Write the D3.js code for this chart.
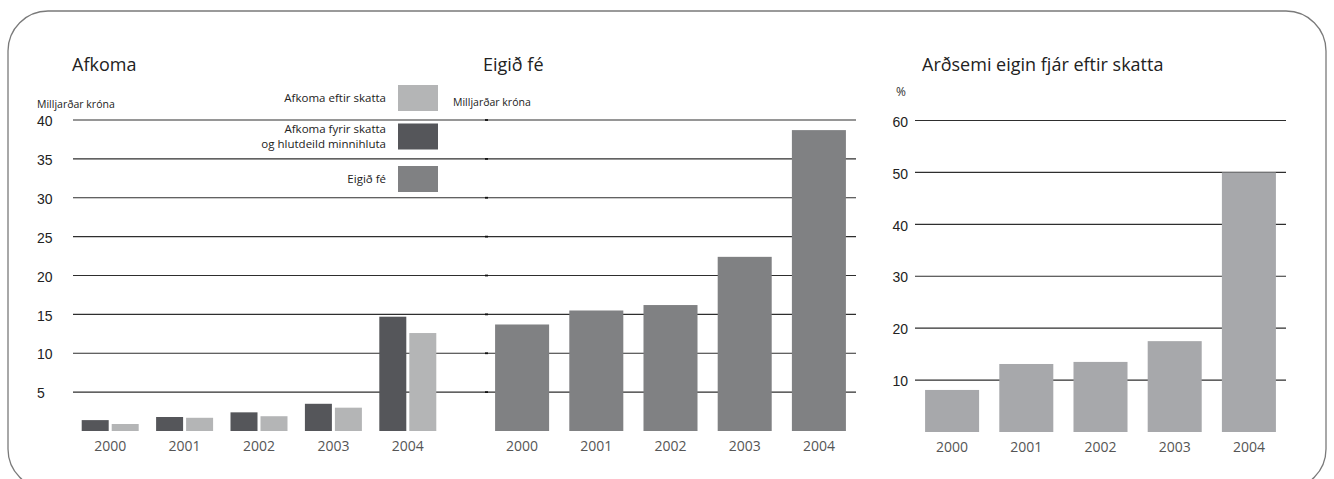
<!DOCTYPE html>
<html>
<head>
<meta charset="utf-8">
<script src="https://cdn.jsdelivr.net/npm/d3@7"></script>
<style>
  html, body { margin: 0; padding: 0; background: #fff; }
  svg { display: block; }
  .sans { font-family: "Open Sans", "Noto Sans", sans-serif; }
  .num { font-family: "Liberation Sans", Arial, sans-serif; }
</style>
</head>
<body>
<svg id="chart" width="1334" height="479"></svg>
<script>
// Years shown on every panel
const years = ["2000", "2001", "2002", "2003", "2004"];

// Afkoma (milljarðar króna)
const afkomaFyrirSkatta = [1.4, 1.8, 2.4, 3.5, 14.7];
const afkomaEftirSkatta = [0.9, 1.7, 1.9, 3.0, 12.6];

// Eigið fé (milljarðar króna)
const eigidFe = [13.7, 15.5, 16.2, 22.4, 38.7];

// Arðsemi eigin fjár eftir skatta (%)
const ardsemi = [8.1, 13.1, 13.5, 17.5, 50.0];

// Axis ticks
const kronaTicks = [5, 10, 15, 20, 25, 30, 35, 40];
const pctTicks = [10, 20, 30, 40, 50, 60];

// Legend entries
const legendLabels = [
  ["Afkoma eftir skatta"],
  ["Afkoma fyrir skatta", "og hlutdeild minnihluta"],
  ["Eigið fé"]
];

const COL_DARK = "#55565a";
const COL_LIGHT = "#b4b5b6";
const COL_MID = "#808183";
const COL_PCT = "#a7a8ab";
const GRID = "#2e2e2e";

const svg = d3.select("#chart");

// band scale whose bands are centred in equal steps across the range
function bands(range, pad) {
  return d3.scaleBand().domain(years).range(range)
    .paddingInner(pad).paddingOuter(pad / 2);
}

// Rounded frame
svg.append("rect")
  .attr("x", 8).attr("y", 11)
  .attr("width", 1318).attr("height", 478)
  .attr("rx", 40).attr("ry", 40)
  .attr("fill", "none")
  .attr("stroke", "#7a7a7a")
  .attr("stroke-width", 1.3);

// Shared scale for the two króna panels
const yKr = d3.scaleLinear().domain([0, 40]).range([431, 120]);
const yPct = d3.scaleLinear().domain([0, 60]).range([432, 120.5]);

// Gridlines for króna panels (span both panels)
svg.append("g").selectAll("line").data(kronaTicks).join("line")
  .attr("x1", 73).attr("x2", 856)
  .attr("y1", d => yKr(d)).attr("y2", d => yKr(d))
  .attr("stroke", GRID).attr("stroke-width", 1.2);

// small tick marks at the middle panel's axis
svg.append("g").selectAll("line").data(kronaTicks).join("line")
  .attr("x1", 485).attr("x2", 488)
  .attr("y1", d => yKr(d)).attr("y2", d => yKr(d))
  .attr("stroke", "#111").attr("stroke-width", 1.8);

// Left y-axis labels
svg.append("g").selectAll("text").data(kronaTicks).join("text")
  .attr("class", "num")
  .attr("x", 37).attr("y", d => yKr(d) + 2.5)
  .attr("dominant-baseline", "middle")
  .attr("font-size", 14).attr("fill", "#222")
  .text(d => d);

// ---- Panel 1: Afkoma ----
const x0 = bands([73, 445], 0.234);
const x1 = d3.scaleBand().domain(["fyrir", "eftir"]).range([0, x0.bandwidth()]).paddingInner(0.1);

const afkomaRows = years.map((y, i) => ({
  year: y,
  vals: [
    { key: "fyrir", v: afkomaFyrirSkatta[i], c: COL_DARK },
    { key: "eftir", v: afkomaEftirSkatta[i], c: COL_LIGHT }
  ]
}));

svg.append("g").selectAll("g").data(afkomaRows).join("g")
  .attr("transform", d => `translate(${x0(d.year)},0)`)
  .selectAll("rect").data(d => d.vals).join("rect")
  .attr("x", d => x1(d.key))
  .attr("width", x1.bandwidth())
  .attr("y", d => yKr(d.v))
  .attr("height", d => yKr(0) - yKr(d.v))
  .attr("fill", d => d.c);

svg.append("g").selectAll("text").data(years).join("text")
  .attr("class", "sans")
  .attr("x", d => x0(d) + x0.bandwidth() / 2)
  .attr("y", 447).attr("dominant-baseline", "middle")
  .attr("text-anchor", "middle")
  .attr("font-size", 14).attr("fill", "#555")
  .text(d => d);

// ---- Panel 2: Eigið fé ----
const xMid = bands([485, 856], 0.272);

svg.append("g").selectAll("rect").data(eigidFe).join("rect")
  .attr("x", (d, i) => xMid(years[i]))
  .attr("width", xMid.bandwidth())
  .attr("y", d => yKr(d))
  .attr("height", d => yKr(0) - yKr(d))
  .attr("fill", COL_MID);

svg.append("g").selectAll("text").data(years).join("text")
  .attr("class", "sans")
  .attr("x", d => xMid(d) + xMid.bandwidth() / 2)
  .attr("y", 447).attr("dominant-baseline", "middle")
  .attr("text-anchor", "middle")
  .attr("font-size", 14).attr("fill", "#555")
  .text(d => d);

// ---- Panel 3: Arðsemi ----
svg.append("g").selectAll("line").data(pctTicks).join("line")
  .attr("x1", 915).attr("x2", 1286)
  .attr("y1", d => yPct(d)).attr("y2", d => yPct(d))
  .attr("stroke", GRID).attr("stroke-width", 1.2);

svg.append("g").selectAll("text").data(pctTicks).join("text")
  .attr("class", "num")
  .attr("x", 908).attr("y", d => yPct(d) + 2.5)
  .attr("dominant-baseline", "middle")
  .attr("text-anchor", "end")
  .attr("font-size", 14).attr("fill", "#222")
  .text(d => d);

const xR = bands([915, 1286], 0.272);

svg.append("g").selectAll("rect").data(ardsemi).join("rect")
  .attr("x", (d, i) => xR(years[i]))
  .attr("width", xR.bandwidth())
  .attr("y", d => yPct(d))
  .attr("height", d => yPct(0) - yPct(d))
  .attr("fill", COL_PCT);

svg.append("g").selectAll("text").data(years).join("text")
  .attr("class", "sans")
  .attr("x", d => xR(d) + xR.bandwidth() / 2)
  .attr("y", 448).attr("dominant-baseline", "middle")
  .attr("text-anchor", "middle")
  .attr("font-size", 14).attr("fill", "#555")
  .text(d => d);

// ---- Titles and units ----
const titles = [
  { t: "Afkoma", x: 72 },
  { t: "Eigið fé", x: 483 },
  { t: "Arðsemi eigin fjár eftir skatta", x: 922 }
];
svg.append("g").selectAll("text").data(titles).join("text")
  .attr("class", "sans")
  .attr("x", d => d.x).attr("y", 71)
  .attr("font-size", 18).attr("fill", "#222")
  .text(d => d.t);

const units = [
  { t: "Milljarðar króna", x: 37, y: 105 },
  { t: "Milljarðar króna", x: 453, y: 103 }
];
svg.append("g").selectAll("text").data(units).join("text")
  .attr("class", "sans")
  .attr("x", d => d.x).attr("y", d => d.y)
  .attr("dominant-baseline", "middle")
  .attr("font-size", 10.5).attr("fill", "#222")
  .text(d => d.t);

svg.append("text")
  .attr("class", "sans")
  .attr("x", 896).attr("y", 93)
  .attr("dominant-baseline", "middle")
  .attr("font-size", 12).attr("fill", "#333")
  .text("%");

// ---- Legend ----
const legendColors = [COL_LIGHT, COL_DARK, COL_MID];
const legendY = [85, 123.5, 166];
const legend = svg.append("g");
legend.selectAll("rect").data(legendColors).join("rect")
  .attr("x", 398).attr("y", (d, i) => legendY[i])
  .attr("width", 40).attr("height", 26)
  .attr("fill", d => d);

legend.selectAll("text").data(legendLabels).join("text")
  .attr("class", "sans")
  .attr("x", 386)
  .attr("y", (d, i) => legendY[i] + 13 - (d.length - 1) * 7.5)
  .attr("text-anchor", "end")
  .attr("font-size", 11.5).attr("fill", "#222")
  .selectAll("tspan").data(d => d).join("tspan")
  .attr("x", 386)
  .attr("dy", (d, i) => i === 0 ? "0.35em" : "15px")
  .text(d => d);
</script>
</body>
</html>
